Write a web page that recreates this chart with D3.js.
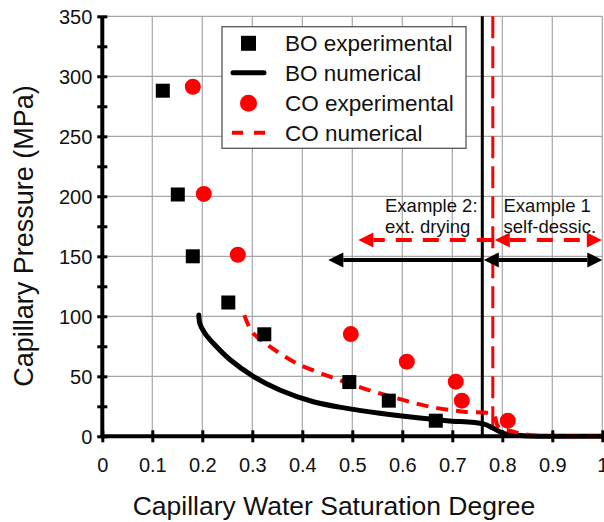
<!DOCTYPE html>
<html>
<head>
<meta charset="utf-8">
<script src="https://cdnjs.cloudflare.com/ajax/libs/d3/7.8.5/d3.min.js"></script>
<style>
  body { margin: 0; background: #fff; }
  svg { display: block; font-family: "Liberation Sans", Arial, sans-serif; }
</style>
</head>
<body>
<div class="chart"></div>
<script>
// Capillary pressure vs water saturation degree

// data
var boExp = [[0.121, 288], [0.151, 201.5], [0.181, 150], [0.252, 111.5], [0.324, 85], [0.494, 45.2], [0.573, 29.7], [0.667, 13]];
var coExp = [[0.181, 291.3], [0.203, 202], [0.271, 151.3], [0.497, 85.2], [0.609, 62.2], [0.707, 45.5], [0.719, 29.7], [0.811, 13]];

var boNum = [[0.193, 101], [0.195, 94], [0.205, 86], [0.222, 77.5], [0.255, 64], [0.302, 50], [0.355, 38.6],
             [0.422, 28.8], [0.489, 23.3], [0.555, 19.2], [0.622, 15.8], [0.689, 13], [0.762, 10.3],
             [0.782, 6.7], [0.802, 2.5], [0.822, 1.1], [0.855, 0.3], [0.9, 0], [1, 0]];
var coNum = [[0.284, 101], [0.292, 92.8], [0.302, 85.8], [0.322, 78.8], [0.345, 71.9], [0.389, 60.8], [0.455, 49.7],
             [0.522, 40], [0.589, 31.7], [0.655, 24.7], [0.722, 20.5], [0.782, 17.8],
             [0.792, 8], [0.822, 3.8], [0.855, 1.1], [0.889, 0.25], [0.93, 0], [1, 0]];

var boLimit = 0.76;   // black vertical line
var coLimit = 0.781;  // red dashed vertical line

// arrows: [from, to, pressure, headAtStart, headAtEnd]
var boArrows = [[0.76, 0.452, 147, false, true], [0.763, 1.0, 147, true, true]];
var coArrows = [[0.781, 0.512, 163.6, false, true], [0.785, 0.999, 163.6, true, true]];

var xTicks = [0, 0.1, 0.2, 0.3, 0.4, 0.5, 0.6, 0.7, 0.8, 0.9, 1];
var yTicks = [0, 25, 50, 75, 100, 125, 150, 175, 200, 225, 250, 275, 300, 325, 350];
var yLabels = [0, 50, 100, 150, 200, 250, 300, 350];

var legendNames = ["BO experimental", "BO numerical", "CO experimental", "CO numerical"];

var svgwidth = 604;
var svgheight = 522;

var margin = { top: 16.3, right: 1.7, bottom: 85.7, left: 102.3 };
var width = svgwidth - margin.left - margin.right;
var height = svgheight - margin.top - margin.bottom;

var svg = d3.select(".chart")
    .append("svg")
    .attr("width", svgwidth)
    .attr("height", svgheight);

var chartGroup = svg.append("g")
    .attr("transform", `translate(${margin.left}, ${margin.top})`);

var xScale = d3.scaleLinear().domain([0, 1]).range([0, width]);
var yScale = d3.scaleLinear().domain([0, 350]).range([height, 0]);

// grid
chartGroup.append("g")
    .selectAll("line")
    .data(xTicks.slice(1))
    .enter()
    .append("line")
    .attr("x1", d => xScale(d)).attr("x2", d => xScale(d))
    .attr("y1", 0).attr("y2", height)
    .attr("stroke", "#a6a6a6").attr("stroke-width", 1.2);

chartGroup.append("g")
    .selectAll("line")
    .data(yLabels.slice(1))
    .enter()
    .append("line")
    .attr("x1", 0).attr("x2", width)
    .attr("y1", d => yScale(d)).attr("y2", d => yScale(d))
    .attr("stroke", "#a6a6a6").attr("stroke-width", 1.2);

// vertical limit lines
chartGroup.append("line")
    .attr("x1", xScale(boLimit)).attr("x2", xScale(boLimit))
    .attr("y1", 0).attr("y2", height)
    .attr("stroke", "black").attr("stroke-width", 3);

chartGroup.append("line")
    .attr("x1", xScale(coLimit)).attr("x2", xScale(coLimit))
    .attr("y1", 0).attr("y2", height)
    .attr("stroke", "red").attr("stroke-width", 3)
    .attr("stroke-dasharray", "22,8");

// arrows
function drawArrow(a, color, dash) {
    var x1 = xScale(a[0]), x2 = xScale(a[1]), yy = yScale(a[2]);
    var len = 15, half = 7.5;
    var dir = x2 > x1 ? 1 : -1;
    var sx = a[3] ? x1 + dir * len : x1;
    var ex = a[4] ? x2 - dir * len : x2;
    chartGroup.append("line")
        .attr("x1", sx).attr("x2", ex)
        .attr("y1", yy).attr("y2", yy)
        .attr("stroke", color).attr("stroke-width", 4)
        .attr("stroke-dasharray", dash);
    if (a[3]) {
        chartGroup.append("path")
            .attr("d", `M${x1},${yy}L${x1 + dir * len},${yy - half}L${x1 + dir * len},${yy + half}Z`)
            .attr("fill", color);
    }
    if (a[4]) {
        chartGroup.append("path")
            .attr("d", `M${x2},${yy}L${x2 - dir * len},${yy - half}L${x2 - dir * len},${yy + half}Z`)
            .attr("fill", color);
    }
}
boArrows.forEach(a => drawArrow(a, "black", null));
coArrows.forEach(a => drawArrow(a, "red", "16,11"));

// annotation texts
var notes = [["Example 2:", 385, 211.5], ["ext. drying", 385, 232.5], ["Example 1", 503.5, 211.5], ["self-dessic.", 503.5, 232.5]];
svg.append("g")
    .selectAll("text")
    .data(notes)
    .enter()
    .append("text")
    .attr("x", d => d[1])
    .attr("y", d => d[2])
    .attr("font-size", "18.5px")
    .attr("fill", "#111")
    .text(d => d[0]);

// numerical curves
var line = d3.line()
    .x(d => xScale(d[0]))
    .y(d => yScale(d[1]))
    .curve(d3.curveCatmullRom.alpha(0.5));

chartGroup.append("path")
    .datum(boNum)
    .attr("d", line)
    .attr("fill", "none")
    .attr("stroke", "black")
    .attr("stroke-width", 5)
    .attr("stroke-linecap", "round");

chartGroup.append("path")
    .datum(coNum)
    .attr("d", line)
    .attr("fill", "none")
    .attr("stroke", "red")
    .attr("stroke-width", 4)
    .attr("stroke-dasharray", "12,8");

// experimental points
chartGroup.selectAll(".bo")
    .data(boExp)
    .enter()
    .append("rect")
    .attr("class", "bo")
    .attr("x", d => xScale(d[0]) - 7)
    .attr("y", d => yScale(d[1]) - 7)
    .attr("width", 14)
    .attr("height", 14)
    .attr("fill", "black");

chartGroup.selectAll(".co")
    .data(coExp)
    .enter()
    .append("circle")
    .attr("class", "co")
    .attr("cx", d => xScale(d[0]))
    .attr("cy", d => yScale(d[1]))
    .attr("r", 8)
    .attr("fill", "red");

// axes
var bottomAxis = d3.axisBottom(xScale)
    .tickValues(xTicks)
    .tickSize(6)
    .tickFormat(d => d === 0 || d === 1 ? String(d) : d3.format(".1f")(d));

var leftAxis = d3.axisLeft(yScale)
    .tickValues(yTicks)
    .tickSize(5)
    .tickFormat(d => d % 50 === 0 ? d : "");

var xAxis = chartGroup.append("g")
    .attr("transform", `translate(0, ${height})`)
    .call(bottomAxis);
xAxis.select(".domain").remove();
xAxis.selectAll(".tick line").attr("y1", -6).attr("y2", 6).attr("stroke", "black").attr("stroke-width", 3);
xAxis.selectAll(".tick text").attr("y", 35.4).attr("dy", null).attr("font-size", "20px").attr("font-family", null).attr("fill", "#111");
xAxis.append("line").attr("x1", 0).attr("x2", width).attr("stroke", "black").attr("stroke-width", 4);

var yAxis = chartGroup.append("g")
    .call(leftAxis);
yAxis.select(".domain").remove();
yAxis.selectAll(".tick line").attr("x1", -5).attr("x2", 5).attr("stroke", "black").attr("stroke-width", 3);
yAxis.selectAll(".tick text").attr("x", -10).attr("dy", "0.35em").attr("font-size", "20px").attr("font-family", null).attr("fill", "#111");
yAxis.append("line").attr("y1", 0).attr("y2", height + 2).attr("stroke", "black").attr("stroke-width", 4);

// axis titles
svg.append("text")
    .attr("transform", "translate(33, 236) rotate(-90)")
    .attr("text-anchor", "middle")
    .attr("font-size", "27px")
    .attr("fill", "#111")
    .text("Capillary Pressure (MPa)");

svg.append("text")
    .attr("x", 334)
    .attr("y", 515)
    .attr("text-anchor", "middle")
    .attr("font-size", "26.5px")
    .attr("fill", "#111")
    .text("Capillary Water Saturation Degree");

// legend
var legend = svg.append("g");
legend.append("rect")
    .attr("x", 222).attr("y", 26.7)
    .attr("width", 244).attr("height", 121.6)
    .attr("fill", "white")
    .attr("stroke", "#555")
    .attr("stroke-width", 1.3);

var rowY = [43.3, 72.7, 103.3, 132.7];
legend.append("rect").attr("x", 241).attr("y", rowY[0] - 7.5).attr("width", 15).attr("height", 15).attr("fill", "black");
legend.append("line").attr("x1", 233).attr("x2", 264).attr("y1", rowY[1]).attr("y2", rowY[1])
    .attr("stroke", "black").attr("stroke-width", 5).attr("stroke-linecap", "round");
legend.append("circle").attr("cx", 248.5).attr("cy", rowY[2]).attr("r", 8.5).attr("fill", "red");
legend.append("line").attr("x1", 232).attr("x2", 265).attr("y1", rowY[3]).attr("y2", rowY[3])
    .attr("stroke", "red").attr("stroke-width", 4).attr("stroke-dasharray", "11,11");

legend.selectAll(".ltext")
    .data(legendNames)
    .enter()
    .append("text")
    .attr("class", "ltext")
    .attr("x", 285)
    .attr("y", (d, i) => rowY[i] + 7.8)
    .attr("font-size", "22.5px")
    .attr("fill", "#111")
    .text(d => d);
</script>
</body>
</html>
